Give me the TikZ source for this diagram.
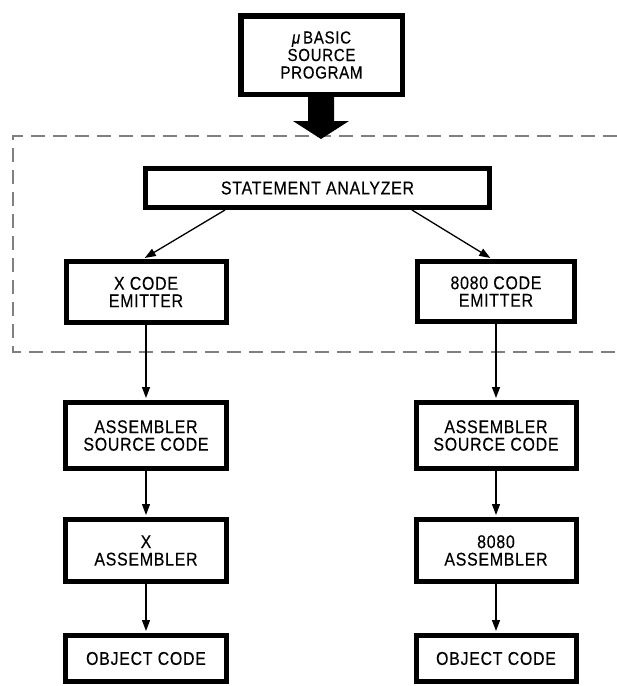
\documentclass[tikz,border=0pt]{standalone}
\usepackage{fontspec}
\setmainfont[FakeStretch=0.86,LetterSpace=4,FakeBold=0.3]{Liberation Sans}
\usetikzlibrary{arrows.meta}
\begin{document}
\begin{tikzpicture}[x=1pt,y=-1pt,
  box/.style={draw=black, line width=5pt, fill=white, align=center, inner sep=0pt,
              font=\fontsize{18.5}{17.5}\selectfont},
  flow/.style={line width=1.3pt, -{Triangle[length=11pt,width=8pt]}, shorten >=2pt},
  region/.style={draw=black!50, line width=1.5pt, dash pattern=on 14pt off 8pt}
]
\useasboundingbox (0,0) rectangle (617,686);
\fill[white] (0,0) rectangle (617,686);

% dashed region (open on the right)
\draw[region] (617,136) -- (13,136) -- (13,352) -- (617,352);

% source box and big arrow
\node[box, line width=5.5pt, minimum width=161.5pt, minimum height=78.5pt,
      font=\fontsize{17.5}{17.5}\selectfont] (src) at (321.5,55)
  {{\itshape μ}\,BASIC\\SOURCE\\PROGRAM};
\fill[black] (308,97) -- (334,97) -- (334,121) -- (349,121) -- (321,139) -- (293,121) -- (308,121) -- cycle;

% analyzer and emitters
\node[box, minimum width=344pt, minimum height=39pt] (sa) at (317.5,188) {STATEMENT ANALYZER};
\node[box, minimum width=160pt, minimum height=61pt] (xce) at (146,292) {X CODE\\EMITTER};
\node[box, minimum width=157pt, minimum height=60pt] (ece) at (496,291.5) {8080 CODE\\EMITTER};

% left column
\node[box, minimum width=161pt, minimum height=66pt] (xasc) at (146,435.5) {ASSEMBLER\\SOURCE CODE};
\node[box, minimum width=161pt, minimum height=62pt] (xasm) at (146,550.5) {X\\ASSEMBLER};
\node[box, minimum width=161pt, minimum height=46pt] (xobj) at (146,658.5) {OBJECT CODE};

% right column
\node[box, minimum width=160pt, minimum height=66pt] (easc) at (496,435.5) {ASSEMBLER\\SOURCE CODE};
\node[box, minimum width=160pt, minimum height=62pt] (easm) at (496,550.5) {8080\\ASSEMBLER};
\node[box, minimum width=160pt, minimum height=46pt] (eobj) at (496,658.5) {OBJECT CODE};

% connectors
\coordinate (saL) at ([xshift=82pt]sa.south west);
\coordinate (saR) at ([xshift=-80pt]sa.south east);
\coordinate (eceT) at ([xshift=-4pt]ece.north);
\coordinate (xceT) at ([xshift=-3pt]xce.north);
\draw[flow] (saL) -- (xceT);
\draw[flow] (saR) -- (eceT);

\draw[flow] (xce) -- (xasc);
\draw[flow] (xasc) -- (xasm);
\draw[flow] (xasm) -- (xobj);
\draw[flow] (ece) -- (easc);
\draw[flow] (easc) -- (easm);
\draw[flow] (easm) -- (eobj);
\end{tikzpicture}
\end{document}
